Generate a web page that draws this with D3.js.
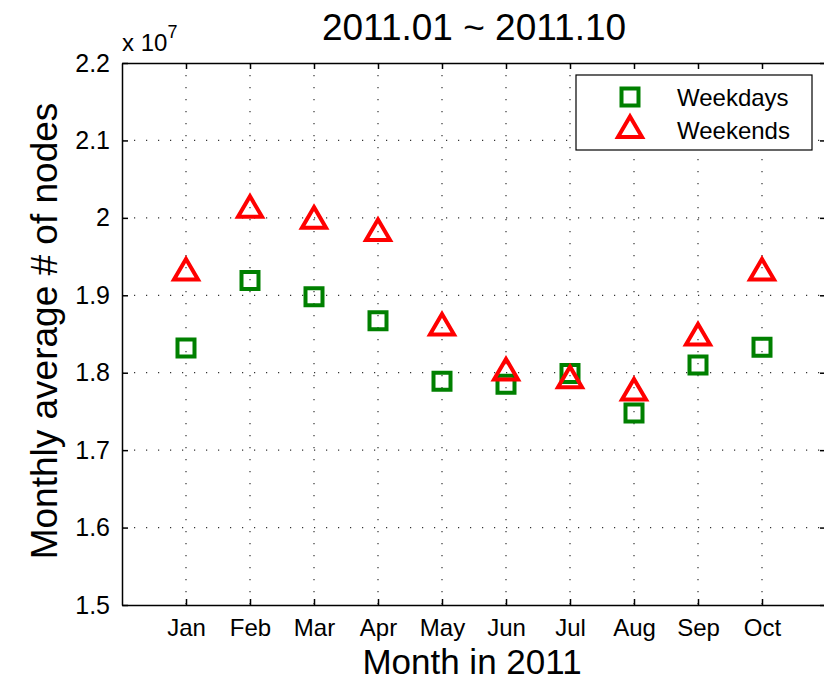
<!DOCTYPE html>
<html>
<head>
<meta charset="utf-8">
<script src="https://cdn.jsdelivr.net/npm/d3@7"></script>
<style>
  body { margin: 0; background: #fff; }
  text { font-family: "Liberation Sans", Arial, sans-serif; fill: #000; }
</style>
</head>
<body>
<svg></svg>
<script>
var width = 824;
var height = 681;

// data (units of 1e7)
var months = ["Jan", "Feb", "Mar", "Apr", "May", "Jun", "Jul", "Aug", "Sep", "Oct"];
var weekdays = [1.832, 1.919, 1.898, 1.867, 1.789, 1.785, 1.799, 1.748, 1.810, 1.833];
var weekends = [1.932, 2.013, 1.999, 1.983, 1.861, 1.803, 1.793, 1.777, 1.848, 1.932];
var yTicks = [1.5, 1.6, 1.7, 1.8, 1.9, 2.0, 2.1, 2.2];

var svg = d3.select("svg")
              .attr("width", width)
              .attr("height", height);

var x = d3.scaleLinear().domain([0, 11]).range([122, 826]);
var y = d3.scaleLinear().domain([1.5, 2.2]).range([605, 63]);

var xTicks = months.map((m, i) => i + 1);

// dotted grid
var grid = svg.append("g")
  .attr("stroke", "#333")
  .attr("stroke-width", 1.2)
  .attr("stroke-dasharray", "1.2,10.8");

grid.selectAll(".vg")
  .data(xTicks)
  .enter()
  .append("line")
    .attr("x1", d => x(d))
    .attr("x2", d => x(d))
    .attr("y1", y(2.2))
    .attr("y2", y(1.5));

grid.selectAll(".hg")
  .data(yTicks.slice(1, -1))
  .enter()
  .append("line")
    .attr("x1", x(0))
    .attr("x2", x(11))
    .attr("y1", d => y(d))
    .attr("y2", d => y(d));

// axes
function styleAxis(g, size) {
  g.selectAll("path, line").attr("stroke", "#000").attr("stroke-width", 1.5);
  g.selectAll("text").attr("font-size", size || 25).attr("fill", "#000")
    .attr("font-family", "Liberation Sans, Arial, sans-serif");
}

svg.append("g")
  .attr("transform", "translate(0," + y(1.5) + ")")
  .call(d3.axisBottom(x).tickValues(xTicks).tickFormat(d => months[d - 1])
          .tickSizeInner(-6).tickSizeOuter(0).tickPadding(14))
  .call(styleAxis, 24);

svg.append("g")
  .attr("transform", "translate(0," + y(2.2) + ")")
  .call(d3.axisTop(x).tickValues(xTicks).tickFormat("")
          .tickSizeInner(-6).tickSizeOuter(0))
  .call(styleAxis);

svg.append("g")
  .attr("transform", "translate(" + x(0) + ",0)")
  .call(d3.axisLeft(y).tickValues(yTicks).tickFormat(d => +d.toFixed(1))
          .tickSizeInner(-6).tickSizeOuter(0).tickPadding(12))
  .call(styleAxis);

svg.append("g")
  .attr("transform", "translate(" + x(11) + ",0)")
  .call(d3.axisRight(y).tickValues(yTicks).tickFormat("")
          .tickSizeInner(-6).tickSizeOuter(0))
  .call(styleAxis);

// markers
var squarePath = "M-8.5,-8.5H8.5V8.5H-8.5Z";
var trianglePath = "M0,-11.5L12,9L-12,9Z";

var green = "#008000";
var red = "#ff0000";

svg.selectAll(".wd")
  .data(weekdays)
  .enter()
  .append("path")
    .attr("d", squarePath)
    .attr("transform", (d, i) => "translate(" + x(i + 1) + "," + y(d) + ")")
    .attr("fill", "none")
    .attr("stroke", green)
    .attr("stroke-width", 4);

svg.selectAll(".we")
  .data(weekends)
  .enter()
  .append("path")
    .attr("d", trianglePath)
    .attr("transform", (d, i) => "translate(" + x(i + 1) + "," + y(d) + ")")
    .attr("fill", "none")
    .attr("stroke", red)
    .attr("stroke-width", 4)
    .attr("stroke-linejoin", "miter");

// exponent label
var expo = svg.append("text")
  .attr("x", 122)
  .attr("y", 51)
  .attr("font-size", 24);
expo.append("tspan").text("x 10");
expo.append("tspan").attr("dy", -13).attr("font-size", 18).text("7");

// title and axis labels
svg.append("text")
  .attr("x", 474)
  .attr("y", 40)
  .attr("text-anchor", "middle")
  .attr("font-size", 37)
  .text("2011.01 ~ 2011.10");

svg.append("text")
  .attr("x", 472)
  .attr("y", 674)
  .attr("text-anchor", "middle")
  .attr("font-size", 35)
  .text("Month in 2011");

svg.append("text")
  .attr("transform", "translate(57,331) rotate(-90)")
  .attr("text-anchor", "middle")
  .attr("font-size", 37)
  .text("Monthly average # of nodes");

// legend
var legend = svg.append("g");
legend.append("rect")
  .attr("x", 576)
  .attr("y", 75)
  .attr("width", 236)
  .attr("height", 75)
  .attr("fill", "#fff")
  .attr("stroke", "#000")
  .attr("stroke-width", 1.2);

var legendItems = [
  { label: "Weekdays", shape: squarePath, color: green },
  { label: "Weekends", shape: trianglePath, color: red }
];

legend.selectAll(".li")
  .data(legendItems)
  .enter()
  .append("path")
    .attr("d", d => d.shape)
    .attr("transform", (d, i) => "translate(630," + (97 + i * 31) + ")")
    .attr("fill", "none")
    .attr("stroke", d => d.color)
    .attr("stroke-width", 4);

legend.selectAll(".lt")
  .data(legendItems)
  .enter()
  .append("text")
    .attr("x", 677)
    .attr("y", (d, i) => 106 + i * 33)
    .attr("font-size", 24)
    .text(d => d.label);
</script>
</body>
</html>
